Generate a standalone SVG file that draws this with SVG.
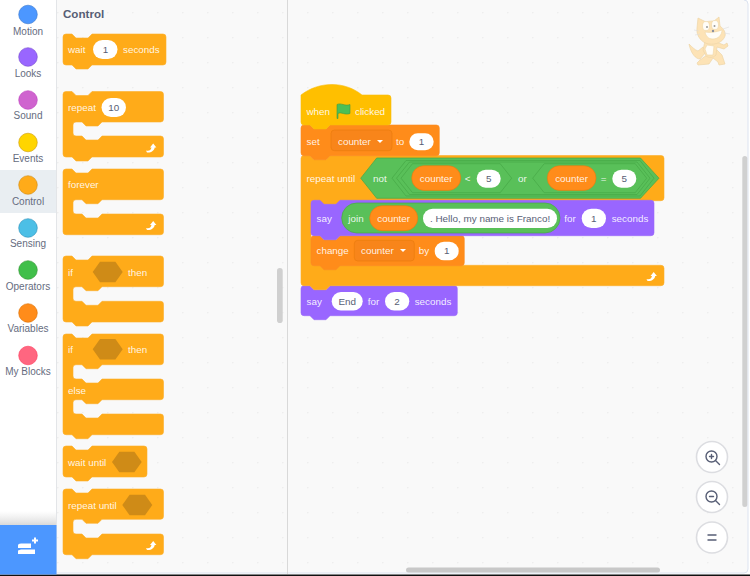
<svg xmlns="http://www.w3.org/2000/svg" width="750" height="576" viewBox="0 0 750 576">
<style>
text{font-family:"Liberation Sans",Arial,sans-serif}
.t{font-size:9.85px;fill:#fff;fill-opacity:.9}
.v{font-size:9.85px;fill:#575E75;text-anchor:middle}
.c{font-size:10px;fill:#666c80;text-anchor:middle}
.ctl{fill:#FFAB19;stroke:#FBAE2A;stroke-width:.6}
.var{fill:#FF8C1A;stroke:#FA8C20;stroke-width:.6}
.lk{fill:#9966FF;stroke:#9A6AF8;stroke-width:.6}
.ev{fill:#FFBF00;stroke:#F8BC0A;stroke-width:.6}
.pill{fill:#fff}
.rep{fill:#FF8C1A;stroke:#E87A0C;stroke-width:.6}
.dd{fill:#F8851A;stroke:#E87A0C;stroke-width:.6}
.op{fill:#59C059;stroke:#46A846;stroke-width:.7}
.hx{fill:#CF8B17}
.ar{fill:#fff}
.zb{fill:#fff;stroke:#dcdde1;stroke-width:1.6}
.zi{fill:none;stroke:#575E75;stroke-width:1.4;stroke-linecap:round}
.cat{fill:#FDE3B6;stroke:#EED6A8;stroke-width:.7;stroke-linejoin:round}
.catw{fill:#FFFDF8;stroke:#EED6A8;stroke-width:.6}
</style>
<defs>
<pattern id="dots" patternUnits="userSpaceOnUse" x="7" y="12" width="25" height="25"><circle cx="0.8" cy="0.8" r="0.8" fill="#ebebeb"/></pattern>
<path id="turn" d="M-6 3.500c3 1 5-.5 5.500-3H-2l3.200-4 3.200 4H2.700C2.400 3.500-1 6-5 5.500Z"/>
<path id="tri" d="M0 0h6l-3 3Z"/>
<linearGradient id="fade" x1="0" y1="0" x2="0" y2="1"><stop offset="0" stop-color="#e5e5e5" stop-opacity="0"/><stop offset="1" stop-color="#d9d9d9"/></linearGradient>
</defs>
<rect width="750" height="576" fill="#fff"/>
<path d="M57 0H744a4 4 0 0 1 4 4V569a4 4 0 0 1-4 4H57Z" fill="#F9F9F9"/>
<path d="M57 0H744a4 4 0 0 1 4 4V569a4 4 0 0 1-4 4H57Z" fill="url(#dots)"/>
<path d="M744 0a4 4 0 0 1 4 4V569a4 4 0 0 1-4 4H57" fill="none" stroke="#DCE3F0" stroke-width="1"/>
<rect x="287" y="0" width="1" height="574" fill="#d9d9d9"/>
<rect x="56" y="0" width="1" height="574" fill="#e3e5e8"/>
<rect x="0" y="574.500" width="750" height="1.500" fill="#111"/>

<g id="sidebar">
<rect x="0" y="170" width="56" height="43" fill="#E9EEF2"/>
<circle cx="28" cy="14.500" r="9.300" fill="#4C97FF" stroke="#3373CC" stroke-width=".6"/><text class="c" x="28" y="34.500">Motion</text>
<circle cx="28" cy="57" r="9.300" fill="#9966FF" stroke="#774DCB" stroke-width=".6"/><text class="c" x="28" y="76.500">Looks</text>
<circle cx="28" cy="100" r="9.300" fill="#CF63CF" stroke="#BD42BD" stroke-width=".6"/><text class="c" x="28" y="119">Sound</text>
<circle cx="28" cy="142.500" r="9.300" fill="#FFD500" stroke="#CC9900" stroke-width=".6"/><text class="c" x="28" y="161.500">Events</text>
<circle cx="28" cy="185" r="9.300" fill="#FFAB19" stroke="#CF8B17" stroke-width=".6"/><text class="c" x="28" y="204.500">Control</text>
<circle cx="28" cy="228" r="9.300" fill="#4CBFE6" stroke="#2E8EB8" stroke-width=".6"/><text class="c" x="28" y="247">Sensing</text>
<circle cx="28" cy="270" r="9.300" fill="#40BF4A" stroke="#389438" stroke-width=".6"/><text class="c" x="28" y="289.500">Operators</text>
<circle cx="28" cy="313" r="9.300" fill="#FF8C1A" stroke="#DB6E00" stroke-width=".6"/><text class="c" x="28" y="332">Variables</text>
<circle cx="28" cy="355.500" r="9.300" fill="#FF6680" stroke="#FF3355" stroke-width=".6"/><text class="c" x="28" y="374.500">My Blocks</text>
</g>

<g id="extensions">
<rect x="0" y="511" width="56" height="14" fill="url(#fade)"/>
<rect x="0" y="525" width="56.500" height="49.500" fill="#4C97FF"/>
<path d="M18 548h13v-4.500H21q-3 0-3 2ZM18 554h17v-4.500H21l-3 1Z" fill="#fff"/><path d="M32 540.500h6M35 537.500v6" stroke="#fff" stroke-width="2"/>
</g>

<text id="title" x="63" y="17.500" font-size="11.600" font-weight="700" fill="#575E75">Control</text>

<g id="wait-seconds"><path class="ctl" d="M63 37a3 3 0 0 1 3-3h6l4 4h12l4-4H163a3 3 0 0 1 3 3V62a3 3 0 0 1-3 3H92l-4 4H76l-4-4H66a3 3 0 0 1-3-3Z"/>
<text class="t" x="68" y="53">wait</text><rect class="pill" x="93" y="40" width="24.500" height="19" rx="9.500"/><text class="v" x="105.500" y="53">1</text><text class="t" x="123" y="53">seconds</text></g>

<g id="repeat"><path class="ctl" d="M63 94.500a3 3 0 0 1 3-3h6l4 4h12l4-4H160.500a3 3 0 0 1 3 3V119a3 3 0 0 1-3 3H102l-4 4H86l-4-4H76a3 3 0 0 0-3 3V133a3 3 0 0 0 3 3h6l4 4h12l4-4H160.500a3 3 0 0 1 3 3V154a3 3 0 0 1-3 3H92l-4 4H76l-4-4H66a3 3 0 0 1-3-3Z"/>
<text class="t" x="68" y="111">repeat</text><rect class="pill" x="101.500" y="98" width="24.500" height="19" rx="9.500"/><text class="v" x="113.700" y="111">10</text><use href="#turn" class="ar" x="152" y="147"/></g>

<g id="forever"><path class="ctl" d="M63 172a3 3 0 0 1 3-3h6l4 4h12l4-4H160.500a3 3 0 0 1 3 3V196.700a3 3 0 0 1-3 3H102l-4 4H86l-4-4H76a3 3 0 0 0-3 3V211a3 3 0 0 0 3 3h6l4 4h12l4-4H160.500a3 3 0 0 1 3 3V231.700a3 3 0 0 1-3 3H66a3 3 0 0 1-3-3Z"/>
<text class="t" x="68" y="188">forever</text><use href="#turn" class="ar" x="152" y="224.500"/></g>

<g id="if-then"><path class="ctl" d="M63 259a3 3 0 0 1 3-3h6l4 4h12l4-4H160.500a3 3 0 0 1 3 3V283.700a3 3 0 0 1-3 3H102l-4 4H86l-4-4H76a3 3 0 0 0-3 3V298.300a3 3 0 0 0 3 3h6l4 4h12l4-4H160.500a3 3 0 0 1 3 3V319a3 3 0 0 1-3 3H92l-4 4H76l-4-4H66a3 3 0 0 1-3-3Z"/>
<text class="t" x="68" y="276">if</text><path class="hx" d="M92.700 272l7.300-10.300h15.400l7.300 10.300-7.300 10.300H100Z"/><text class="t" x="128" y="276">then</text></g>

<g id="if-else"><path class="ctl" d="M63 337a3 3 0 0 1 3-3h6l4 4h12l4-4H160.500a3 3 0 0 1 3 3V361.700a3 3 0 0 1-3 3H102l-4 4H86l-4-4H76a3 3 0 0 0-3 3V376a3 3 0 0 0 3 3h6l4 4h12l4-4H160.500a3 3 0 0 1 3 3V396.700a3 3 0 0 1-3 3H102l-4 4H86l-4-4H76a3 3 0 0 0-3 3V411a3 3 0 0 0 3 3h6l4 4h12l4-4H160.500a3 3 0 0 1 3 3V431.700a3 3 0 0 1-3 3H92l-4 4H76l-4-4H66a3 3 0 0 1-3-3Z"/>
<text class="t" x="68" y="353">if</text><path class="hx" d="M92.700 349.300l7.300-10.300h15.400l7.300 10.300-7.300 10.300H100Z"/><text class="t" x="128" y="353">then</text><text class="t" x="68" y="393.500">else</text></g>

<g id="wait-until"><path class="ctl" d="M63 449a3 3 0 0 1 3-3h6l4 4h12l4-4H144a3 3 0 0 1 3 3V474a3 3 0 0 1-3 3H92l-4 4H76l-4-4H66a3 3 0 0 1-3-3Z"/>
<text class="t" x="68" y="465.500">wait until</text><path class="hx" d="M112 462l7.300-10.300h15.100l7.300 10.300-7.300 10.300H119.300Z"/></g>

<g id="repeat-until"><path class="ctl" d="M63 492a3 3 0 0 1 3-3h6l4 4h12l4-4H160.500a3 3 0 0 1 3 3V516.300a3 3 0 0 1-3 3H102l-4 4H86l-4-4H76a3 3 0 0 0-3 3V531a3 3 0 0 0 3 3h6l4 4h12l4-4H160.500a3 3 0 0 1 3 3V551.700a3 3 0 0 1-3 3H92l-4 4H76l-4-4H66a3 3 0 0 1-3-3Z"/>
<text class="t" x="68" y="508.500">repeat until</text><path class="hx" d="M122.300 505l7.300-10.300h15.400l7.300 10.300-7.300 10.300H129.600Z"/><use href="#turn" class="ar" x="152" y="544.500"/></g>

<rect id="palette-scroll" x="277" y="268" width="5.700" height="55" rx="2.800" fill="#d0d0d0"/>

<g id="say-end"><path class="lk" d="M301 288.700a3 3 0 0 1 3-3h6l4 4h12l4-4H454.300a3 3 0 0 1 3 3V312.700a3 3 0 0 1-3 3H330l-4 4H314l-4-4H304a3 3 0 0 1-3-3Z"/>
<text class="t" x="306.500" y="304.500">say</text><rect class="pill" x="331.700" y="292" width="31" height="18.500" rx="9.200"/><text class="v" x="347.200" y="304.500">End</text><text class="t" x="367.700" y="304.500">for</text><rect class="pill" x="385" y="292" width="24.300" height="18.500" rx="9.200"/><text class="v" x="397" y="304.500">2</text><text class="t" x="414.700" y="304.500">seconds</text></g>

<g id="repeat-until-main"><path class="ctl" d="M301 158.500a3 3 0 0 1 3-3h6l4 4h12l4-4H661a3 3 0 0 1 3 3V197.700a3 3 0 0 1-3 3H340l-4 4H324l-4-4H314a3 3 0 0 0-3 3V262.300a3 3 0 0 0 3 3h6l4 4h12l4-4H661a3 3 0 0 1 3 3V282.700a3 3 0 0 1-3 3H330l-4 4H314l-4-4H304a3 3 0 0 1-3-3Z"/>
<text class="t" x="306.500" y="182">repeat until</text>
<path class="op" d="M360.700 178.200L376.700 158H640.500L659 178.200 640.500 198.300H376.700Z"/>
<text class="t" x="373" y="182">not</text>
<path class="op" d="M392 178.200L406 160.500H640L654 178.200 640 196H406Z"/>
<path class="op" d="M396.500 178.200L409.500 162H637L650 178.200 637 194.500H409.500Z"/>
<path class="op" d="M401 178.200L412.500 163.700H500.200L511.700 178.200 500.200 192.700H412.500Z"/>
<rect class="rep" x="411.700" y="165.700" width="49" height="24.700" rx="12.300"/><text class="t" x="436.200" y="182" text-anchor="middle">counter</text>
<text class="t" x="467.500" y="182" text-anchor="middle">&lt;</text><rect class="pill" x="476.700" y="169.700" width="24" height="18" rx="9"/><text class="v" x="488.700" y="182">5</text>
<text class="t" x="518" y="182">or</text>
<path class="op" d="M532.700 178.200L544.200 163.700H635.200L646.700 178.200 635.200 192.700H544.200Z"/>
<rect class="rep" x="547.300" y="165.700" width="48.700" height="24.700" rx="12.300"/><text class="t" x="571.600" y="182" text-anchor="middle">counter</text>
<text class="t" x="603.700" y="182" text-anchor="middle">=</text><rect class="pill" x="612.300" y="169.700" width="24" height="18" rx="9"/><text class="v" x="624.300" y="182">5</text>
<use href="#turn" class="ar" x="652.500" y="275.500"/></g>

<g id="change"><path class="var" d="M311 238.700a3 3 0 0 1 3-3h6l4 4h12l4-4H461.300a3 3 0 0 1 3 3V262.700a3 3 0 0 1-3 3H340l-4 4H324l-4-4H314a3 3 0 0 1-3-3Z"/>
<text class="t" x="316.500" y="254">change</text><rect class="dd" x="354.300" y="240.300" width="60" height="20.700" rx="3.500"/><text class="t" x="361" y="254">counter</text><use href="#tri" class="ar" x="400" y="249"/>
<text class="t" x="418.700" y="254">by</text><rect class="pill" x="434.700" y="241.700" width="24" height="18.600" rx="9.300"/><text class="v" x="446.700" y="254">1</text></g>

<g id="say-join"><path class="lk" d="M311 203.300a3 3 0 0 1 3-3h6l4 4h12l4-4H651a3 3 0 0 1 3 3V232.700a3 3 0 0 1-3 3H340l-4 4H324l-4-4H314a3 3 0 0 1-3-3Z"/>
<text class="t" x="316.500" y="222">say</text>
<rect class="op" x="341.700" y="203" width="218.300" height="30" rx="15"/><text class="t" x="348.300" y="222">join</text>
<rect class="rep" x="369.700" y="205.700" width="48" height="25" rx="12.500"/><text class="t" x="393.700" y="222" text-anchor="middle">counter</text>
<rect class="pill" x="423" y="208.700" width="134" height="19.300" rx="9.600"/><text x="430" y="222" font-size="9.900" fill="#575E75">. Hello, my name is Franco!</text>
<text class="t" x="564.300" y="222">for</text><rect class="pill" x="581.700" y="208.700" width="24.300" height="19.300" rx="9.600"/><text class="v" x="593.800" y="222">1</text><text class="t" x="611.700" y="222">seconds</text></g>

<g id="set"><path class="var" d="M301 128a3 3 0 0 1 3-3h6l4 4h12l4-4H436.300a3 3 0 0 1 3 3V152.700a3 3 0 0 1-3 3H330l-4 4H314l-4-4H304a3 3 0 0 1-3-3Z"/>
<text class="t" x="306.500" y="145">set</text><rect class="dd" x="331" y="130" width="61" height="20.700" rx="3.500"/><text class="t" x="338" y="145">counter</text><use href="#tri" class="ar" x="377" y="140"/>
<text class="t" x="396" y="145">to</text><rect class="pill" x="409.300" y="133.300" width="24.400" height="17" rx="8.500"/><text class="v" x="421.500" y="145">1</text></g>

<g id="when-clicked"><path class="ev" d="M301 95c18-14 44-14 61 0H388a3 3 0 0 1 3 3V122a3 3 0 0 1-3 3H330l-4 4H314l-4-4H304a3 3 0 0 1-3-3Z"/>
<text class="t" x="306.500" y="115">when</text>
<path d="M337 104.500c4-2 8 2 13 0v9c-5 2-9-2-12 0v5h-1Z" fill="#4CBF56" stroke="#45993d" stroke-width=".6"/>
<text class="t" x="355" y="115">clicked</text></g>

<g id="sprite">
<path class="cat" d="M689 44c3 3 6 6 9 7l5-4 3 5-6 7c-4 0-9-5-11-15Z"/>
<path class="cat" d="M704 57l-4 3-3 3 1 2 11-1 4-6 5 4 1 3 6-1-3-9-5-5Z"/>
<path class="cat" d="M705 41l11 1 8 3 3-2 1 3-4 3-7-2-1 8c-3 3-7 3-10 1l-3-6Z"/>
<path class="catw" d="M707 45l7 1-1 9-6 0-2-6Z"/>
<path class="cat" d="M697 28l1-10 8 4c3-1 6-1 8-1l5-4 1 9c4 3 6 7 5 10-2 6-9 9-16 8-8-1-13-9-12-16Z"/>
<path class="catw" d="M705 32c5 1 12 0 17-2 0 5-4 9-9 9s-7-3-8-7Z"/>
<ellipse class="catw" cx="706" cy="26" rx="3.500" ry="4.500"/><ellipse class="catw" cx="715" cy="25" rx="3.500" ry="4.500"/>
<circle cx="707" cy="27" r="1" fill="#999"/><circle cx="714.500" cy="26" r="1" fill="#999"/>
<circle cx="713" cy="31" r="1.200" fill="#8a8fa0"/>
<path d="M694 30l5 1M695 35l5-1M723 29l6-2M724 33l6 1" stroke="#ddd" stroke-width=".6"/>
</g>

<g id="zoom-controls">
<circle class="zb" cx="712" cy="457" r="15.500"/><circle class="zi" cx="711.500" cy="456.500" r="5.500"/><path class="zi" d="M715.500 460.500l4 4M709.500 456.500h4M711.500 454.500v4"/>
<circle class="zb" cx="712" cy="497" r="15.500"/><circle class="zi" cx="711.500" cy="496.500" r="5.500"/><path class="zi" d="M715.500 500.500l4 4M709.500 496.500h4"/>
<circle class="zb" cx="712" cy="537.500" r="15.500"/><path class="zi" d="M708 535h8M708 540h8" stroke-width="1.800"/>
</g>
<rect id="v-scroll" x="742.300" y="156" width="5" height="351" rx="2.500" fill="#d0d0d0"/>
<rect id="h-scroll" x="406" y="567.500" width="254" height="5" rx="2.500" fill="#c8c8c8"/>
</svg>
